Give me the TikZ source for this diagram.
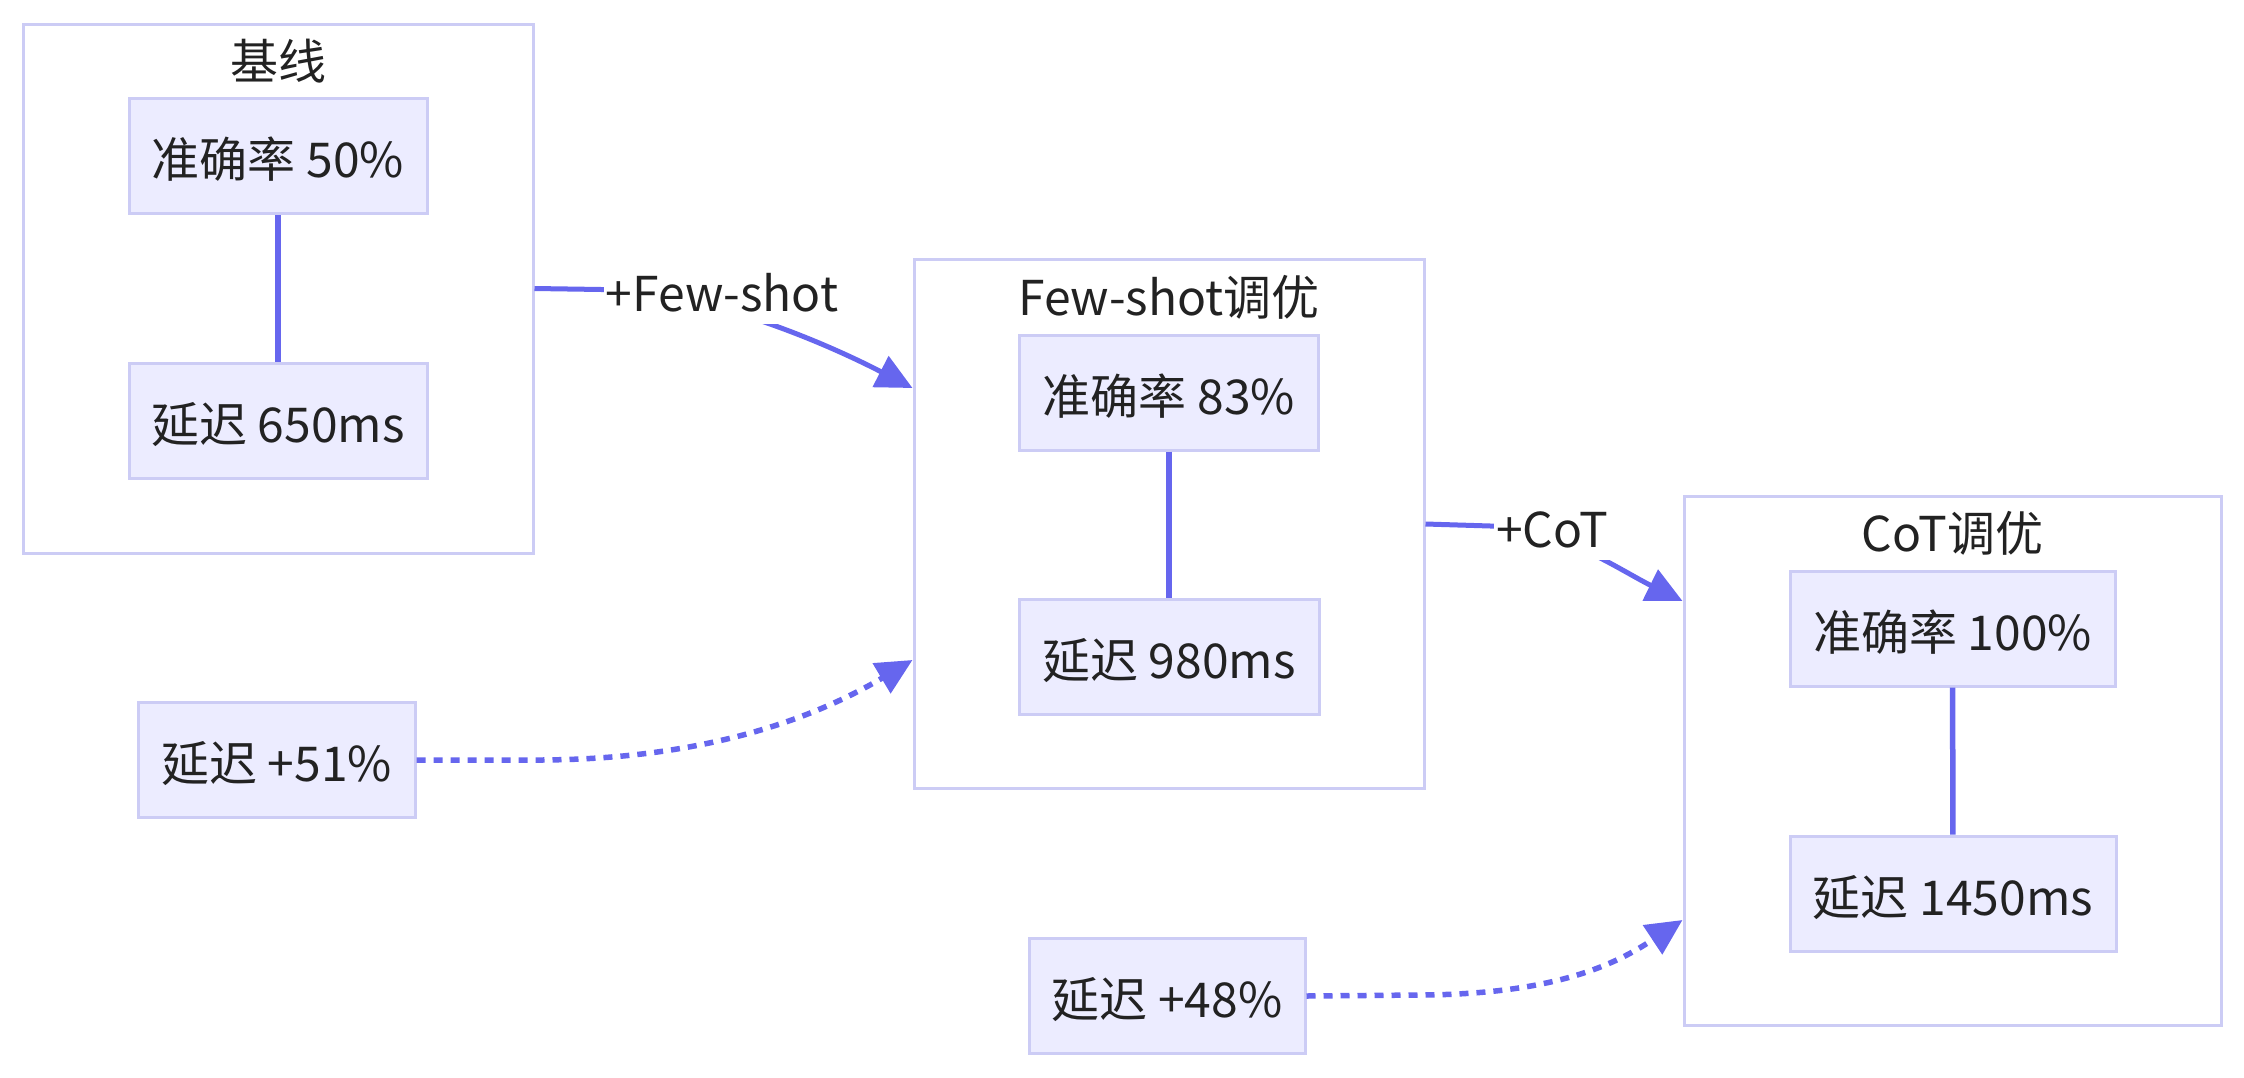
\documentclass[tikz,border=0pt]{standalone}
\usepackage{fontspec}
\setmainfont{Noto Sans CJK SC}
\usetikzlibrary{arrows.meta,calc}
\definecolor{nodefill}{RGB}{236,236,255}
\definecolor{nodeborder}{RGB}{204,204,245}
\definecolor{clusterborder}{RGB}{204,204,245}
\definecolor{edgecol}{RGB}{102,102,238}
\definecolor{txt}{RGB}{34,34,34}
\begin{document}
\begin{tikzpicture}[x=1pt,y=-1pt,
  every node/.style={font=\fontsize{48pt}{58pt}\selectfont, text=txt},
  cluster/.style={draw=clusterborder, line width=3pt, fill=white, minimum height=529pt, inner sep=0pt},
  box/.style={draw=nodeborder, line width=3pt, fill=nodefill, minimum height=115pt, inner xsep=0pt, inner ysep=0pt, text height=46pt, text depth=3pt},
  ctitle/.style={anchor=base, inner sep=0pt},
  elabel/.style={fill=white, inner xsep=2pt, inner ysep=0pt, text height=36pt, text depth=13pt, anchor=base},
  link/.style={draw=edgecol, line width=5.5pt},
  flow/.style={draw=edgecol, line width=5pt, -{Triangle[length=36pt,width=34pt]}},
  dotflow/.style={flow, line width=5.5pt, dash pattern=on 9pt off 8pt},
]
\useasboundingbox (0,0) rectangle (2244,1077);

% clusters
\node[cluster, minimum width=510pt] (c1) at (278,288.5) {};
\node[ctitle] (t1) at ($(c1.north)+(0,57)$) {基线};
\node[cluster, minimum width=510pt] (c2) at (1169,524) {};
\node[ctitle] (t2) at ($(c2.north)+(0,57)$) {Few-shot调优};
\node[cluster, minimum width=537pt] (c3) at (1952.5,760.5) {};
\node[ctitle] (t3) at ($(c3.north)+(0,57)$) {CoT调优};

% inner nodes
\node[box, minimum width=298pt] (a1) at (278,156) {准确率 50\%};
\node[box, minimum width=298pt] (l1) at (278,421) {延迟 650ms};
\node[box, minimum width=299pt] (a2) at (1169,392.5) {准确率 83\%};
\node[box, minimum width=300pt] (l2) at (1169,656.5) {延迟 980ms};
\node[box, minimum width=325pt] (a3) at (1952.5,628.5) {准确率 100\%};
\node[box, minimum width=326pt] (l3) at (1953,893.5) {延迟 1450ms};

% outside nodes
\node[box, minimum width=277pt] (d1) at (276.5,760) {延迟 +51\%};
\node[box, minimum width=276pt] (d2) at (1167,996) {延迟 +48\%};

% inner links
\draw[link] (a1) -- (l1);
\draw[link] (a2) -- (l2);
\draw[link] (a3) -- (l3);

% main flow edges
\draw[flow] (c1.east) -- ++(67,1) .. controls +(100,1) and +(-93,-48) .. ($(c2.west)+(0,-136)$);
\node[elabel] (e1) at (722,311) {+Few-shot};
\draw[flow] (c2.east) -- ++(65,2) .. controls +(70,2) and +(-63,-31) .. ($(c3.west)+(0,-159.5)$);
\node[elabel] (e2) at (1552,547) {+CoT};

% dotted edges
\draw[dotflow] (d1.east) -- ++(125,0) .. controls +(160,-1) and +(-101,60) .. ($(c2.west)+(0,136)$);
\draw[dotflow] (d2.east) -- ++(115,-1) .. controls +(140,-1) and +(-62,41) .. ($(c3.west)+(0,159.5)$);
\end{tikzpicture}
\end{document}
